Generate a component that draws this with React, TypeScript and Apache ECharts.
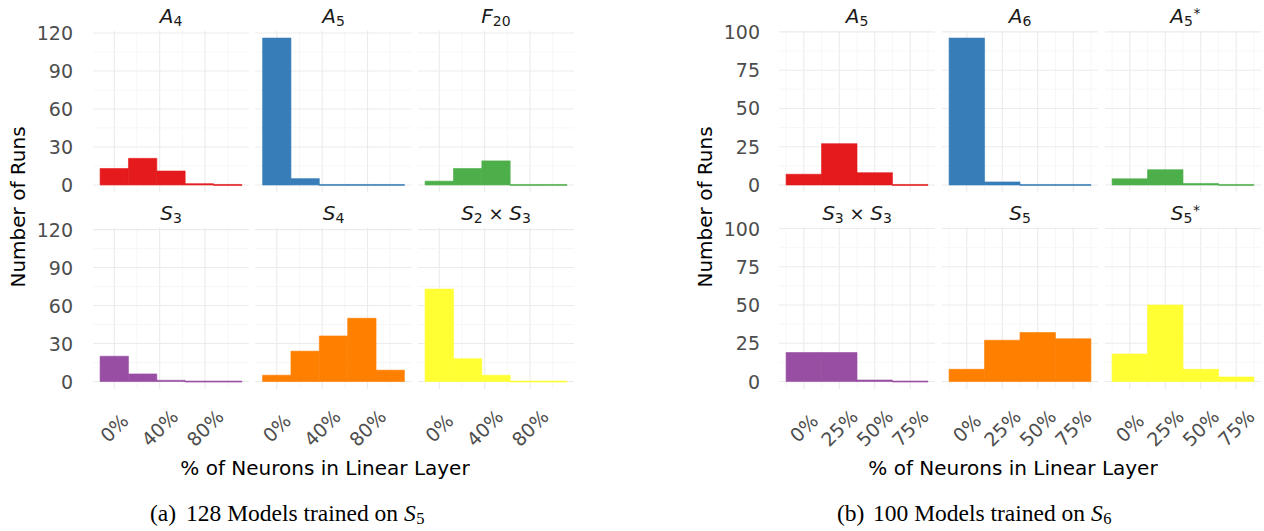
import React, { useEffect, useRef } from 'react';
import * as echarts from 'echarts';

// ---------- data ----------
const binCentersA = [0, 25, 50, 75, 100];
const binCentersB = [0, 25, 50, 75];
const binWidth = 25;

const countsA4 = [13, 21, 11, 1, 0];
const countsA5 = [116, 5, 0, 0, 0];
const countsF20 = [3, 13, 19, 0, 0];
const countsS3 = [20, 6, 1, 0, 0];
const countsS4 = [5, 24, 36, 50, 9];
const countsS2xS3 = [73, 18, 5, 0, 0];

const countsB_A5 = [7, 27, 8, 0];
const countsB_A6 = [96, 2, 0, 0];
const countsB_A5star = [4, 10, 1, 0];
const countsB_S3xS3 = [19, 19, 1, 0];
const countsB_S5 = [8, 27, 32, 28];
const countsB_S5star = [18, 50, 8, 3];

const yTicksA = [0, 30, 60, 90, 120];
const yMinorA = [15, 45, 75, 105];
const xTicksA = [0, 40, 80];
const xMinorA = [20, 60, 100];
const yTicksB = [0, 25, 50, 75, 100];
const yMinorB = [12.5, 37.5, 62.5, 87.5];
const xTicksB = [0, 25, 50, 75];
const xMinorB = [-12.5, 12.5, 37.5, 62.5, 87.5];

const colors = ['#E41A1C', '#377EB8', '#4DAF4A', '#984EA3', '#FF7F00', '#FFFF33'];

type Kind = 'i' | 'n' | 'sub' | 'sup';
type Part = [string, Kind];
const titlesA: Part[][] = [
  [['A', 'i'], ['4', 'sub']],
  [['A', 'i'], ['5', 'sub']],
  [['F', 'i'], ['20', 'sub']],
  [['S', 'i'], ['3', 'sub']],
  [['S', 'i'], ['4', 'sub']],
  [['S', 'i'], ['2', 'sub'], [' \u00d7 ', 'n'], ['S', 'i'], ['3', 'sub']],
];
const titlesB: Part[][] = [
  [['A', 'i'], ['5', 'sub']],
  [['A', 'i'], ['6', 'sub']],
  [['A', 'i'], ['5', 'sub'], ['*', 'sup']],
  [['S', 'i'], ['3', 'sub'], [' \u00d7 ', 'n'], ['S', 'i'], ['3', 'sub']],
  [['S', 'i'], ['5', 'sub']],
  [['S', 'i'], ['5', 'sub'], ['*', 'sup']],
];

const yTitle = 'Number of Runs';
const xTitle = '% of Neurons in Linear Layer';
const captionA: [string, string, string, string] = ['(a)', '128 Models trained on ', 'S', '5'];
const captionB: [string, string, string, string] = ['(b)', '100 Models trained on ', 'S', '6'];

// ---------- layout ----------
const FONT = '"DejaVu Sans"';
const SERIF = '"Liberation Serif"';
const panelLeftsA = [93, 255.5, 418];
const panelLeftsB = [779, 942, 1105];
const panelW = 156;
const rowTops = [30.7, 227.3];
const panelH = 161.6;

let ctx: CanvasRenderingContext2D | null = null;
function measure(text: string, size: number, italic: boolean, family = FONT) {
  if (!ctx) ctx = document.createElement('canvas').getContext('2d');
  if (!ctx) return text.length * size * 0.6;
  ctx.font = `${italic ? 'italic ' : ''}${size}px ${family}`;
  return ctx.measureText(text).width;
}

function titleElements(parts: Part[], cx: number, baseline: number) {
  const sizes: Record<Kind, number> = { i: 20, n: 18, sub: 14, sup: 14 };
  let total = 0;
  let centerW = 0;
  const placed: { t: string; k: Kind; x: number; fs: number }[] = [];
  for (const [t, k] of parts) {
    const fs = sizes[k];
    const w = measure(t, fs, k === 'i');
    placed.push({ t, k, x: total + (k === 'sup' ? 0.5 : 0), fs });
    centerW = k === 'sup' ? total + w * 0.4 : total + w;
    total += w;
  }
  const x0 = cx - centerW / 2;
  return placed.map((p) => {
    let bl = baseline;
    if (p.k === 'sub') bl = baseline + 2.7;
    else if (p.k === 'sup') bl = baseline - 5.5;
    else if (p.k === 'n') bl = baseline - 0.5;
    return {
      type: 'text',
      x: x0 + p.x,
      y: bl - 0.346 * p.fs,
      silent: true,
      style: {
        text: p.t,
        fontSize: p.fs,
        fontStyle: p.k === 'i' ? 'italic' : 'normal',
        fontFamily: FONT,
        fill: '#1a1a1a',
        align: 'left',
        verticalAlign: 'middle',
      },
    };
  });
}

function captionElements(cap: [string, string, string, string], x0: number, baseline: number) {
  const fs = 23.5;
  const y = baseline - 0.3375 * fs;
  const mainX = x0 + 36;
  const mainW = measure(cap[1], fs, false, SERIF);
  const sW = measure(cap[2], fs, true, SERIF);
  const base = { fontFamily: SERIF, fill: '#000', align: 'left', verticalAlign: 'middle' };
  const subFs = 16.5;
  return [
    { type: 'text', x: x0, y, silent: true, style: { ...base, text: cap[0], fontSize: fs } },
    { type: 'text', x: mainX, y, silent: true, style: { ...base, text: cap[1], fontSize: fs } },
    { type: 'text', x: mainX + mainW, y, silent: true, style: { ...base, text: cap[2], fontSize: fs, fontStyle: 'italic' } },
    {
      type: 'text',
      x: mainX + mainW + sW + 0.5,
      y: baseline + 3.5 - 0.3375 * subFs,
      silent: true,
      style: { ...base, text: cap[3], fontSize: subFs },
    },
  ];
}

function buildOption() {
  const grids: any[] = [];
  const xAxes: any[] = [];
  const yAxes: any[] = [];
  const series: any[] = [];
  const graphics: any[] = [];

  const panels = [
    {
      lefts: panelLeftsA,
      centers: binCentersA,
      counts: [countsA4, countsA5, countsF20, countsS3, countsS4, countsS2xS3],
      titles: titlesA,
      yTicks: yTicksA,
      yMinor: yMinorA,
      xTicks: xTicksA,
      xMinor: xMinorA,
      yMargin: 20,
    },
    {
      lefts: panelLeftsB,
      centers: binCentersB,
      counts: [countsB_A5, countsB_A6, countsB_A5star, countsB_S3xS3, countsB_S5, countsB_S5star],
      titles: titlesB,
      yTicks: yTicksB,
      yMinor: yMinorB,
      xTicks: xTicksB,
      xMinor: xMinorB,
      yMargin: 19,
    },
  ];

  panels.forEach((P) => {
    const lo = P.centers[0] - binWidth / 2;
    const hi = P.centers[P.centers.length - 1] + binWidth / 2;
    const xPad = (hi - lo) * 0.05;
    const xMin = lo - xPad;
    const xMax = hi + xPad;
    let yTop = 0;
    P.counts.forEach((c) => c.forEach((v) => (yTop = Math.max(yTop, v))));
    const yPad = yTop * 0.05;
    const yMin = -yPad;
    const yMax = yTop + yPad;

    for (let k = 0; k < 6; k++) {
      const row = Math.floor(k / 3);
      const col = k % 3;
      const gi = grids.length;
      grids.push({ left: P.lefts[col], top: rowTops[row], width: panelW, height: panelH, containLabel: false });
      xAxes.push({
        type: 'value',
        gridIndex: gi,
        min: xMin,
        max: xMax,
        axisLine: { show: false },
        axisTick: { show: false },
        splitLine: { show: false },
        axisLabel:
          row === 1
            ? {
                show: true,
                customValues: P.xTicks,
                formatter: (v: number) => `${v}%`,
                rotate: 45,
                align: 'center',
                verticalAlign: 'middle',
                margin: 39,
                fontSize: 19,
                fontFamily: FONT,
                color: '#4d4d4d',
              }
            : { show: false },
      });
      yAxes.push({
        type: 'value',
        gridIndex: gi,
        min: yMin,
        max: yMax,
        axisLine: { show: false },
        axisTick: { show: false },
        splitLine: { show: false },
        axisLabel:
          col === 0
            ? {
                show: true,
                customValues: P.yTicks,
                margin: P.yMargin,
                fontSize: 19,
                fontFamily: FONT,
                color: '#4d4d4d',
              }
            : { show: false },
      });

      const gridData: number[][] = [
        ...P.xTicks.map((v) => [v, 0, 1]),
        ...P.xMinor.map((v) => [v, 0, 0]),
        ...P.yTicks.map((v) => [v, 1, 1]),
        ...P.yMinor.map((v) => [v, 1, 0]),
      ];
      series.push({
        type: 'custom',
        xAxisIndex: gi,
        yAxisIndex: gi,
        z: 1,
        silent: true,
        data: gridData,
        renderItem: (params: any, api: any) => {
          const cs = params.coordSys;
          const v = api.value(0);
          const o = api.value(1);
          const m = api.value(2);
          let shape;
          if (o === 0) {
            const px = api.coord([v, yMin])[0];
            shape = { x1: px, y1: cs.y, x2: px, y2: cs.y + cs.height };
          } else {
            const py = api.coord([xMin, v])[1];
            shape = { x1: cs.x, y1: py, x2: cs.x + cs.width, y2: py };
          }
          return {
            type: 'line',
            shape,
            silent: true,
            style: { stroke: m ? '#EBEBEB' : '#F5F5F5', lineWidth: m ? 1.1 : 0.8 },
          };
        },
      });

      const color = colors[k];
      const barData = P.centers.map((c, i) => [c - binWidth / 2, c + binWidth / 2, P.counts[k][i]]);
      series.push({
        type: 'custom',
        xAxisIndex: gi,
        yAxisIndex: gi,
        z: 2,
        data: barData,
        encode: { x: [0, 1], y: 2 },
        renderItem: (params: any, api: any) => {
          const x0 = api.value(0);
          const x1 = api.value(1);
          const n = api.value(2);
          const pTop = api.coord([x0, n]);
          const pBase = api.coord([x1, 0]);
          let h = pBase[1] - pTop[1];
          let y = pTop[1];
          if (h < 1) {
            y = pBase[1] - 0.5;
            h = 1;
          }
          return {
            type: 'rect',
            shape: { x: pTop[0], y, width: pBase[0] - pTop[0], height: h },
            style: { fill: color, stroke: color, lineWidth: 0.6 },
          };
        },
      });

      const cx = P.lefts[col] + panelW / 2;
      graphics.push(...titleElements(P.titles[k], cx, rowTops[row] - 7.4));
    }
  });

  // axis titles
  const yTitleStyle = { text: yTitle, fontSize: 20, fontFamily: FONT, fill: '#000', align: 'center', verticalAlign: 'middle' };
  graphics.push({ type: 'text', x: 18, y: 207, rotation: Math.PI / 2, silent: true, style: yTitleStyle });
  graphics.push({ type: 'text', x: 705, y: 207, rotation: Math.PI / 2, silent: true, style: yTitleStyle });
  const xTitleStyle = { text: xTitle, fontSize: 20, fontFamily: FONT, fill: '#000', align: 'center', verticalAlign: 'middle' };
  graphics.push({ type: 'text', x: 325, y: 468, silent: true, style: xTitleStyle });
  graphics.push({ type: 'text', x: 1013, y: 468, silent: true, style: xTitleStyle });

  graphics.push(...captionElements(captionA, 150, 521));
  graphics.push(...captionElements(captionB, 837, 521));

  return {
    animation: false,
    backgroundColor: '#fff',
    grid: grids,
    xAxis: xAxes,
    yAxis: yAxes,
    series,
    graphic: graphics,
  };
}

export default function App() {
  const ref = useRef<HTMLDivElement>(null);
  useEffect(() => {
    if (!ref.current) return;
    const chart = echarts.init(ref.current, undefined, { renderer: 'svg' });
    chart.setOption(buildOption() as any);
    return () => chart.dispose();
  }, []);
  return <div ref={ref} style={{ position: 'absolute', left: 0, top: 0, width: 1264, height: 531 }} />;
}
